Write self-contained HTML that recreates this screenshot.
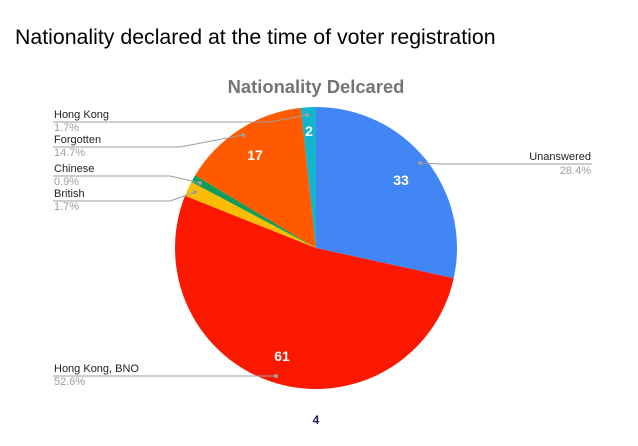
<!DOCTYPE html>
<html><head><style>body{margin:0;background:#fff;width:638px;height:441px;overflow:hidden;font-family:"Liberation Sans",sans-serif}</style></head>
<body>
<svg id="s" width="638" height="441" xmlns="http://www.w3.org/2000/svg" font-family="Liberation Sans, sans-serif">
<text x="15" y="44" font-size="21.3" fill="#000">Nationality declared at the time of voter registration</text>
<text x="316" y="93" font-size="18.4" font-weight="bold" fill="#757575" text-anchor="middle">Nationality Delcared</text>
<g id="pie"></g>
<g font-size="14" font-weight="bold" fill="#fff" text-anchor="middle">
<text x="401" y="185">33</text><text x="282" y="361">61</text><text x="255" y="160">17</text><text x="309" y="136">2</text>
</g>
<g stroke="#9e9e9e" stroke-width="1" fill="none">
<polyline points="53,122 270,122 307,115"/>
<polyline points="53,147 180,147 243,135"/>
<polyline points="53,176 170,176 200,183"/>
<polyline points="53,201 170,201 195,192"/>
<polyline points="53,376 276,376"/>
<polyline points="420,163 440,164 592,164"/>
</g>
<g fill="#9e9e9e"><circle cx="307" cy="115" r="2"/><circle cx="243" cy="135" r="2"/><circle cx="200" cy="183" r="2"/><circle cx="195" cy="192" r="2"/><circle cx="276" cy="376" r="2"/><circle cx="420" cy="163" r="2"/></g>
<g font-size="11" fill="#222">
<text x="54" y="118">Hong Kong</text><text x="54" y="143">Forgotten</text><text x="54" y="172">Chinese</text><text x="54" y="197">British</text><text x="54" y="372">Hong Kong, BNO</text><text x="591" y="160" text-anchor="end">Unanswered</text>
</g>
<g font-size="11" fill="#9e9e9e">
<text x="54" y="131">1.7%</text><text x="54" y="156">14.7%</text><text x="54" y="185">0.9%</text><text x="54" y="210">1.7%</text><text x="54" y="385">52.6%</text><text x="591" y="174" text-anchor="end">28.4%</text>
</g>
<text x="316" y="424" font-size="12" font-weight="bold" fill="#1a1a5e" text-anchor="middle">4</text>
</svg>
<script>
var d=[[33,"#4285f4"],[61,"#fa1900"],[2,"#fbbc04"],[1,"#0f9d58"],[17,"#ff5a00"],[2,"#12b5cb"]],cx=316,cy=248,r=141,t=116,a=0,h="";
d.forEach(function(s){var b=a+s[0]/t*2*Math.PI;var x1=cx+r*Math.sin(a),y1=cy-r*Math.cos(a),x2=cx+r*Math.sin(b),y2=cy-r*Math.cos(b);h+='<path d="M'+cx+','+cy+'L'+x1+','+y1+'A'+r+','+r+' 0 '+((b-a)>Math.PI?1:0)+' 1 '+x2+','+y2+'Z" fill="'+s[1]+'"/>';a=b;});
document.getElementById("pie").innerHTML=h;
</script>
</body></html>
